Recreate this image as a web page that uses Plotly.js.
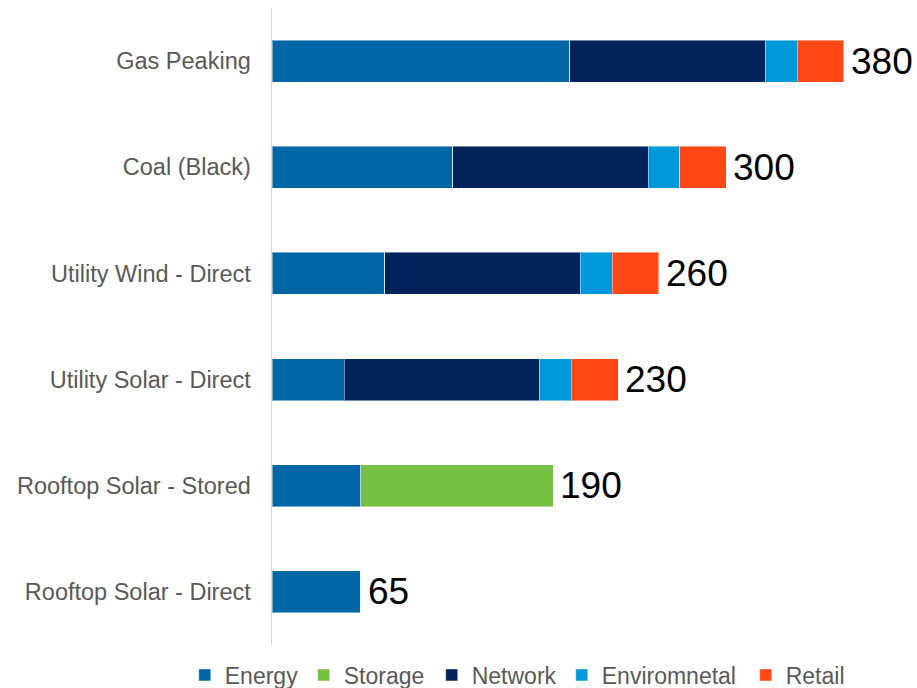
<!DOCTYPE html>
<html>
<head>
<meta charset="utf-8">
<script src="https://cdn.plot.ly/plotly-3.0.1.min.js"></script>
<style>html,body{margin:0;padding:0;background:#fff}#chart{width:917px;height:688px}</style>
</head>
<body>
<div id="chart"></div>
<script>
const categories = ["Gas Peaking", "Coal (Black)", "Utility Wind - Direct", "Utility Solar - Direct", "Rooftop Solar - Stored", "Rooftop Solar - Direct"];
const energy = [198, 120, 75, 48, 59, 59];
const storage = [0, 0, 0, 0, 128, 0];
const network = [130, 130, 130, 130, 0, 0];
const environmental = [21, 21, 21, 21, 0, 0];
const retail = [31, 31, 31, 31, 0, 0];
const totalLabels = ["380", "300", "260", "230", "190", "65"];

const seriesNames = ["Energy", "Storage", "Network", "Enviromnetal", "Retail"];
const seriesData = [energy, storage, network, environmental, retail];
const seriesColors = ["#0066a6", "#76c043", "#00235c", "#0098d8", "#ff4816"];

// one legend per entry so each can sit where the reference puts it
const legendIds = ["legend", "legend2", "legend3", "legend4", "legend5"];
const legendX = [0.2015, 0.3312, 0.4708, 0.6126, 0.8132];

const traces = seriesData.map((vals, i) => ({
  type: "bar",
  orientation: "h",
  name: seriesNames[i],
  legend: legendIds[i],
  y: categories,
  x: vals,
  marker: {color: seriesColors[i], line: {color: "rgba(255,255,255,0.45)", width: 1}},
  hoverinfo: "x+name"
}));

const sums = categories.map((c, j) => seriesData.reduce((s, arr) => s + arr[j], 0));
const annotations = categories.map((c, j) => ({
  x: sums[j], y: c, xref: "x", yref: "y",
  text: totalLabels[j], showarrow: false,
  xanchor: "left", xshift: 5,
  font: {family: "Liberation Sans, Arial, sans-serif", size: 37, color: "#000000"}
}));

const layout = {
  width: 917, height: 688,
  margin: {l: 272, r: 10, t: 8, b: 43, autoexpand: false},
  paper_bgcolor: "#ffffff", plot_bgcolor: "#ffffff",
  barmode: "stack",
  bargap: 0.604,
  font: {family: "Liberation Sans, Arial, sans-serif", color: "#595959"},
  xaxis: {range: [0, 422], showgrid: false, zeroline: false, showticklabels: false, showline: false, fixedrange: true},
  yaxis: {
    type: "category", autorange: "reversed",
    showline: true, linecolor: "#d4d4d4", linewidth: 1.5,
    showgrid: false, zeroline: false, ticks: "",
    ticklabelstandoff: 15,
    tickfont: {size: 23.5, color: "#595959"}
  },
  showlegend: true,
  annotations: annotations
};
legendIds.forEach((id, i) => {
  layout[id] = {
    orientation: "h", x: legendX[i], xanchor: "left", xref: "container",
    y: 0.0189, yanchor: "middle", yref: "container",
    font: {size: 23, color: "#595959"},
    itemwidth: 30, bgcolor: "rgba(0,0,0,0)"
  };
});

Plotly.newPlot("chart", traces, layout, {displayModeBar: false, staticPlot: true});
</script>
</body>
</html>
